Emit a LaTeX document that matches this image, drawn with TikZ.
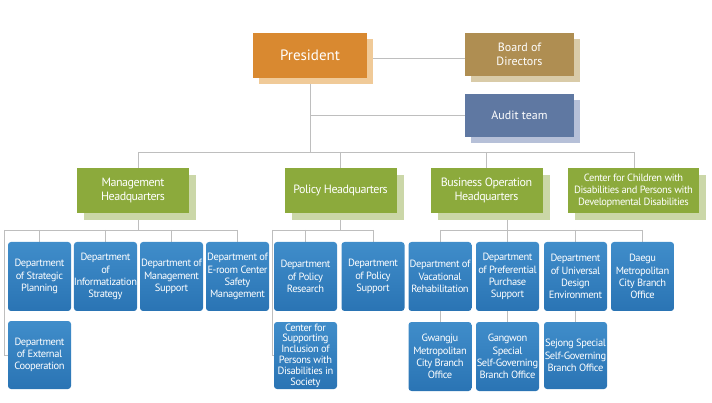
\documentclass[tikz,border=0pt]{standalone}
\usepackage{fontspec}
\setmainfont{PT Sans}
\newfontfamily\tightfont[LetterSpace=-4]{PT Sans}
\usetikzlibrary{shadows,backgrounds}
\definecolor{presorange}{RGB}{217,137,48}
\definecolor{presshade}{RGB}{240,202,152}
\definecolor{boardbrown}{RGB}{175,142,82}
\definecolor{boardshade}{RGB}{217,203,168}
\definecolor{auditblue}{RGB}{95,120,162}
\definecolor{auditshade}{RGB}{182,192,216}
\definecolor{hqgreen}{RGB}{140,170,60}
\definecolor{hqshade}{RGB}{203,215,168}
\definecolor{deptlight}{RGB}{64,141,202}
\definecolor{deptblue}{RGB}{42,116,180}
\definecolor{linegray}{RGB}{190,190,190}
\tikzstyle{box} = [inner sep=0pt, align=center, text=white]
\tikzstyle{presbox} = [box, fill=presorange, minimum width=114pt, minimum height=45pt,
  drop shadow={shadow xshift=6pt, shadow yshift=-6pt, fill=presshade, opacity=1},
  font=\fontsize{15}{17}\selectfont]
\tikzstyle{topbox} = [box, minimum width=109pt, minimum height=43pt, font=\fontsize{12}{13.5}\selectfont]
\tikzstyle{hqbox} = [box, fill=hqgreen, minimum width=112pt, minimum height=45pt,
  drop shadow={shadow xshift=7pt, shadow yshift=-7pt, fill=hqshade, opacity=1},
  font=\tightfont\fontsize{12}{13.5}\selectfont]
\tikzstyle{deptbox} = [box, rounded corners=3pt, top color=deptlight, bottom color=deptblue,
  minimum width=63pt, minimum height=69pt, font=\tightfont\fontsize{10.5}{12.2}\selectfont]
\tikzstyle{conn} = [draw=linegray, line width=0.8pt]

\begin{document}
\begin{tikzpicture}[x=1pt,y=-1pt]
\useasboundingbox (0,0) rectangle (712,403);

% top level
\node[presbox] (pres) at (310,55.5) {President};
\node[topbox, fill=boardbrown,
  drop shadow={shadow xshift=6pt, shadow yshift=-6pt, fill=boardshade, opacity=1}]
  (board) at (519.5,54.5) {Board of\\Directors};
\node[topbox, fill=auditblue,
  drop shadow={shadow xshift=6pt, shadow yshift=-6pt, fill=auditshade, opacity=1}]
  (audit) at (519.5,115.5) {Audit team};

% headquarters
\node[hqbox] (mgmt) at (133,190.5) {Management\\Headquarters};
\node[hqbox] (policy) at (340.5,190.5) {Policy Headquarters};
\node[hqbox] (business) at (486.5,190.5) {Business Operation\\Headquarters};
\node[hqbox, minimum width=131pt, font=\tightfont\fontsize{10.5}{12}\selectfont] (center) at (633.5,190.5)
  {Center for Children with\\Disabilities and Persons with\\Developmental Disabilities};

% departments
\node[deptbox] (plan) at (39.5,276.5) {Department\\of Strategic\\Planning};
\node[deptbox] (info) at (105.5,276.5) {Department\\of\\Informatization\\Strategy};
\node[deptbox] (msup) at (171.5,276.5) {Department of\\Management\\Support};
\node[deptbox] (erm) at (237.5,276.5) {Department of\\E-room Center\\Safety\\Management};
\node[deptbox, minimum height=68pt] (ext) at (39.5,355) {Department\\of External\\Cooperation};

\node[deptbox] (pres2) at (305.5,276.5) {Department\\of Policy\\Research};
\node[deptbox] (psup) at (373,276.5) {Department\\of Policy\\Support};
\node[deptbox, minimum height=67pt, font=\tightfont\fontsize{10.5}{10.8}\selectfont] (incl) at (305.5,355.5)
  {Center for\\Supporting\\Inclusion of\\Persons with\\Disabilities in\\Society};

\node[deptbox] (voc) at (440,276.5) {Department of\\Vacational\\Rehabilitation};
\node[deptbox] (pref) at (507.5,276.5) {Department\\of Preferential\\Purchase\\Support};
\node[deptbox] (univ) at (575.5,276.5) {Department\\of Universal\\Design\\Environment};
\node[deptbox] (daegu) at (642.5,276.5) {Daegu\\Metropolitan\\City Branch\\Office};
\node[deptbox] (gwangju) at (440,356.5) {Gwangju\\Metropolitan\\City Branch\\Office};
\node[deptbox] (gangwon) at (507.5,356.5) {Gangwon\\Special\\Self-Governing\\Branch Office};
\node[deptbox, minimum height=67pt] (sejong) at (575.5,355.5) {Sejong Special\\Self-Governing\\Branch Office};

\coordinate (busL) at (138,152);
\coordinate (busR) at (634,152);
\coordinate (mL) at (4,230);
\coordinate (pL) at (272,230);
\coordinate (bL) at (440,230);

\begin{scope}[on background layer]
\draw[conn] ([yshift=-2.5pt]pres.east) -- ([yshift=-2.5pt]pres.east -| board.west);
\draw[conn] (pres.south) -- (pres.south |- busL);
\draw[conn] (pres.south |- audit) -- (audit.west);
\draw[conn] (busL) -- (busR);
\draw[conn] (busL) -- (busL |- mgmt.north);
\draw[conn] (policy.north |- busL) -- (policy.north);
\draw[conn] (business.north |- busL) -- (business.north);
\draw[conn] (busR) -- (busR |- center.north);

% management
\draw[conn] (busL |- mgmt.south) -- (busL |- mL);
\draw[conn] (mL) -- (erm.north |- mL);
\foreach \d in {plan,info,msup,erm}
  \draw[conn] (\d.north |- mL) -- (\d.north);
\draw[conn] (mL) |- (ext.west);

% policy
\draw[conn] (policy.south) -- (policy.south |- pL);
\draw[conn] (pL) -- (psup.north |- pL);
\foreach \d in {pres2,psup}
  \draw[conn] (\d.north |- pL) -- (\d.north);
\draw[conn] (pL) |- (incl.west);

% business
\draw[conn] (pref.north |- business.south) -- (pref.north |- bL);
\draw[conn] (bL) -- (daegu.north |- bL);
\foreach \d in {voc,pref,univ,daegu}
  \draw[conn] (\d.north |- bL) -- (\d.north);
\draw[conn] (voc) -- (gwangju);
\draw[conn] (pref) -- (gangwon);
\draw[conn] (univ) -- (sejong);
\end{scope}
\end{tikzpicture}
\end{document}
